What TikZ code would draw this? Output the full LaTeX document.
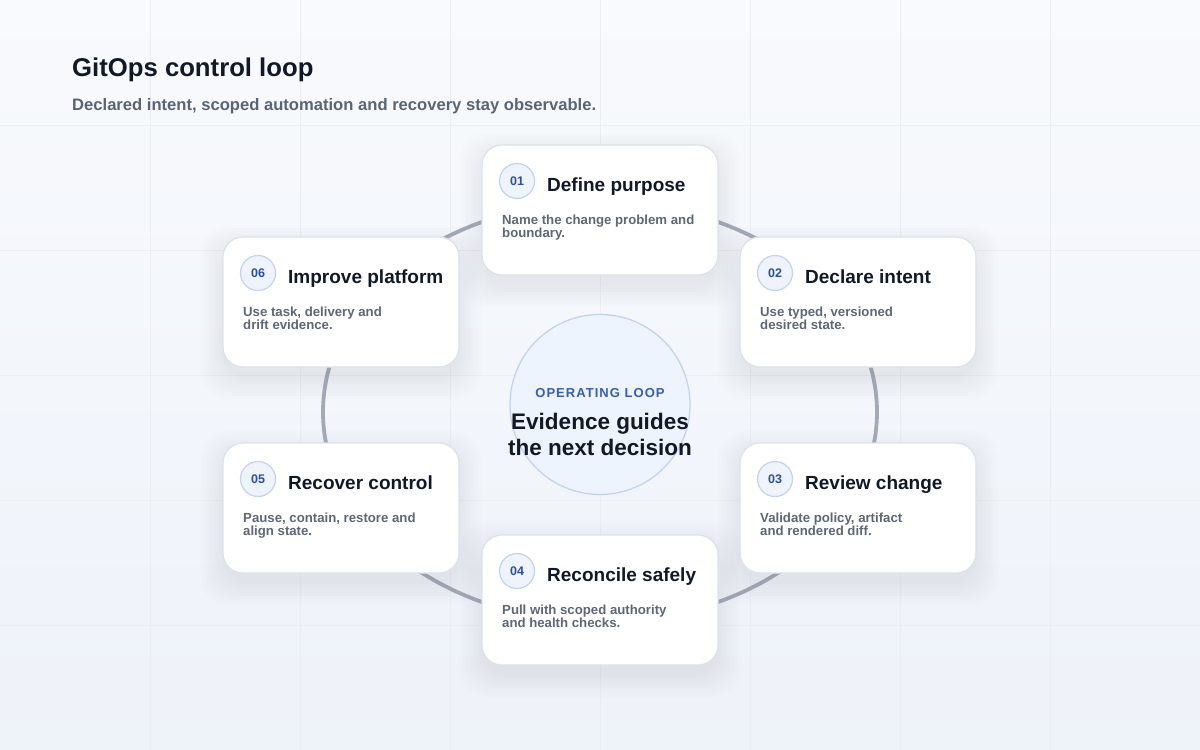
\documentclass[tikz,border=0pt]{standalone}
\usepackage{fontspec}
\setmainfont{Liberation Sans}
\usetikzlibrary{calc}
\definecolor{bgtop}{HTML}{F8FAFD}
\definecolor{bgbot}{HTML}{EEF2F9}
\definecolor{gridc}{HTML}{EAEEF4}
\definecolor{loopc}{HTML}{A3A9B6}
\definecolor{cardedge}{HTML}{DCE1EA}
\definecolor{ink}{HTML}{111827}
\definecolor{subink}{HTML}{5A6476}
\definecolor{descink}{HTML}{5F6776}
\definecolor{numblue}{HTML}{2D4F9C}
\definecolor{numfill}{HTML}{EEF3FC}
\definecolor{numedge}{HTML}{C4D2EC}
\definecolor{hubfill}{HTML}{EEF4FD}
\definecolor{hubedge}{HTML}{C3D3EE}
\definecolor{hubblue}{HTML}{3A5DB0}
\definecolor{shadowc}{HTML}{2A3A5C}
\tikzset{
  cardbox/.style={draw=cardedge, line width=1.2pt, fill=white, rounded corners=20pt,
    minimum width=236pt, minimum height=130pt, inner sep=0pt},
  numc/.style={circle, draw=numedge, line width=1.2pt, fill=numfill, minimum size=35pt,
    inner sep=0pt, text=numblue, font=\bfseries\fontsize{12.5}{14}\selectfont},
  ttl/.style={inner sep=0pt, text=ink, font=\bfseries\fontsize{19}{22}\selectfont},
  desc/.style={inner sep=0pt, text=descink, font=\bfseries\fontsize{13.2}{14}\selectfont},
  looppath/.style={draw=loopc, line width=3.8pt},
}
\newcommand\stepcard[7]{%
  \foreach \s in {22,19,16,13,10,7,4,1}{%
    \fill[shadowc, opacity=0.009, rounded corners=26pt]
      (#2-\s, #3-\s+10) rectangle (#2+236+\s, #3+130+\s+10);
  }
  \node[cardbox] (#1) at (#2+118, #3+65) {};
  \node[numc] (#1n) at (#2+35, #3+36) {#4};
  \node[ttl, anchor=base west] (#1t) at (#2+65, #3+46.5) {#5};
  \node[desc, anchor=base west] (#1a) at (#2+20, #3+79) {#6};
  \node[desc, anchor=base west] (#1b) at (#2+20, #3+92.5) {#7};
}
\begin{document}
\begin{tikzpicture}[x=1pt, y=-1pt]
\useasboundingbox (0,0) rectangle (1200,750);
\shade[top color=bgtop, bottom color=bgbot] (0,0) rectangle (1200,750);
\foreach \gx in {150,300,...,1050} \draw[gridc, line width=0.8pt] (\gx,0) -- (\gx,750);
\foreach \gy in {125,250,...,625} \draw[gridc, line width=0.8pt] (0,\gy) -- (1200,\gy);

\node[anchor=base west, inner sep=0pt, text=ink, font=\bfseries\fontsize{25.7}{30}\selectfont] (title) at (72,76) {GitOps control loop};
\node[anchor=base west, inner sep=0pt, text=subink, font=\bfseries\fontsize{16.6}{20}\selectfont] (subtitle) at (72,110) {Declared intent, scoped automation and recovery stay observable.};

\draw[looppath] (600,412) ellipse [x radius=277, y radius=210];

\node[circle, draw=hubedge, line width=1.3pt, fill=hubfill, minimum size=180pt, inner sep=0pt] (hub) at (600,404.5) {};
\node[anchor=base, inner sep=0pt, text=hubblue, font=\bfseries\fontsize{13}{15}\selectfont\addfontfeature{LetterSpace=8}] (hubk) at (600,397.3) {OPERATING LOOP};
\node[anchor=base, inner sep=0pt, text=ink, font=\bfseries\fontsize{22.5}{27}\selectfont] (hub1) at (600,429) {Evidence guides};
\node[anchor=base, inner sep=0pt, text=ink, font=\bfseries\fontsize{22.5}{27}\selectfont] (hub2) at (600,455.7) {the next decision};

\stepcard{c1}{482}{145}{01}{Define purpose}{Name the change problem and}{boundary.}
\stepcard{c2}{740}{237}{02}{Declare intent}{Use typed, versioned}{desired state.}
\stepcard{c3}{740}{443}{03}{Review change}{Validate policy, artifact}{and rendered diff.}
\stepcard{c4}{482}{535}{04}{Reconcile safely}{Pull with scoped authority}{and health checks.}
\stepcard{c5}{223}{443}{05}{Recover control}{Pause, contain, restore and}{align state.}
\stepcard{c6}{223}{237}{06}{Improve platform}{Use task, delivery and}{drift evidence.}
\end{tikzpicture}
\end{document}
